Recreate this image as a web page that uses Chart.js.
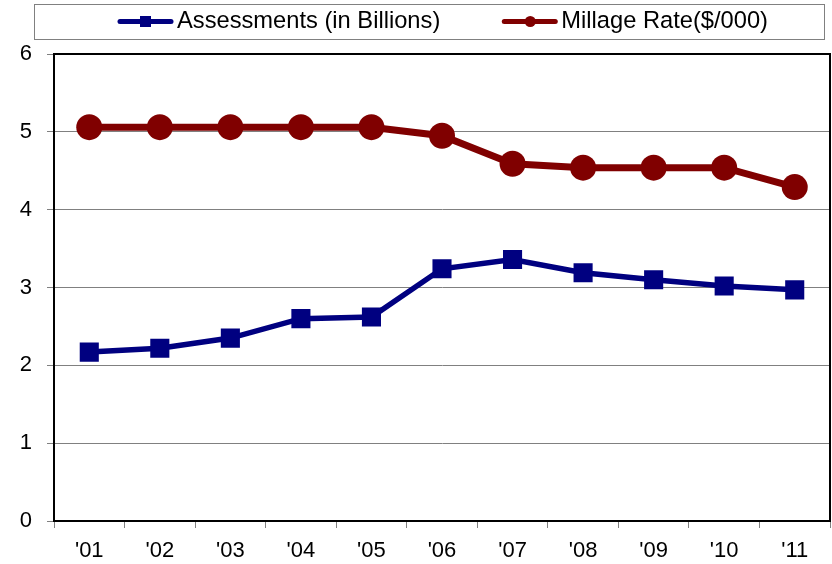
<!DOCTYPE html>
<html>
<head>
<meta charset="utf-8">
<script src="https://cdn.jsdelivr.net/npm/chart.js@4"></script>
<style>
  html, body { margin: 0; padding: 0; background: #fff; }
</style>
</head>
<body>
<canvas id="taxChart" width="832" height="564"></canvas>
<script>
// Years
const years = ["'01", "'02", "'03", "'04", "'05", "'06", "'07", "'08", "'09", "'10", "'11"];

// Series
const assessments = [2.17, 2.22, 2.35, 2.60, 2.62, 3.24, 3.36, 3.19, 3.10, 3.02, 2.97];
const millageRate = [5.06, 5.06, 5.06, 5.06, 5.06, 4.95, 4.59, 4.54, 4.54, 4.54, 4.29];

const yTicks = [0, 1, 2, 3, 4, 5, 6];

const NAVY = '#000080';
const MAROON = '#800000';
const FONT = 'Liberation Sans, Arial, sans-serif';

// boxed legend at the top, each entry a short line with its marker
const legendBox = {
    id: 'legendBox',
    afterDraw(chart) {
        const ctx = chart.ctx;
        ctx.save();
        ctx.strokeStyle = '#808080';
        ctx.lineWidth = 1;
        ctx.strokeRect(34.5, 4.5, 790, 35);

        ctx.font = '23.7px ' + FONT;
        ctx.textBaseline = 'middle';
        let x = 117;
        const y = 21.5;
        chart.data.datasets.forEach(ds => {
            ctx.strokeStyle = ds.borderColor;
            ctx.fillStyle = ds.borderColor;
            ctx.lineWidth = 5;
            ctx.lineCap = 'round';
            ctx.beginPath();
            ctx.moveTo(x + 3, y); ctx.lineTo(x + 54, y);
            ctx.stroke();
            if (ds.pointStyle === 'rect') {
                ctx.fillRect(x + 23, y - 5.5, 11, 11);
            } else {
                ctx.beginPath();
                ctx.arc(x + 29, y, 5.5, 0, Math.PI * 2);
                ctx.fill();
            }
            ctx.fillStyle = '#000';
            ctx.fillText(ds.label, x + 60, y);
            x += 60 + ctx.measureText(ds.label).width + 61;
        });

        // frame round the plot
        const a = chart.chartArea;
        ctx.strokeStyle = '#000';
        ctx.lineWidth = 2;
        ctx.strokeRect(a.left, a.top, a.right - a.left, a.bottom - a.top);
        ctx.restore();
    }
};

new Chart(document.getElementById('taxChart'), {
    type: 'line',
    data: {
        labels: years,
        datasets: [{
            label: 'Assessments (in Billions)',
            data: assessments,
            borderColor: NAVY,
            backgroundColor: NAVY,
            borderWidth: 5.5,
            tension: 0,
            pointStyle: 'rect',
            pointRadius: 13.5,
            pointHoverRadius: 13.5,
            pointBorderWidth: 0
        }, {
            label: 'Millage Rate($/000)',
            data: millageRate,
            borderColor: MAROON,
            backgroundColor: MAROON,
            borderWidth: 7,
            tension: 0,
            pointStyle: 'circle',
            pointRadius: 13,
            pointHoverRadius: 13,
            pointBorderWidth: 0
        }]
    },
    options: {
        responsive: false,
        animation: false,
        layout: { autoPadding: false, padding: { top: 54, right: 2, left: 0, bottom: 0 } },
        plugins: {
            tooltip: { enabled: false },
            legend: { display: false }
        },
        scales: {
            x: {
                offset: true,
                grid: {
                    offset: true,
                    drawOnChartArea: false,
                    drawTicks: true,
                    tickLength: 7,
                    color: '#808080'
                },
                border: { color: '#000', width: 2 },
                ticks: {
                    color: '#000',
                    font: { family: FONT, size: 22 },
                    padding: 10,
                    maxRotation: 0
                },
                afterFit(scale) { scale.height = 43; }
            },
            y: {
                min: yTicks[0],
                max: yTicks[yTicks.length - 1],
                afterBuildTicks(scale) { scale.ticks = yTicks.map(v => ({ value: v })); },
                grid: {
                    color: '#808080',
                    lineWidth: 1,
                    tickLength: 7
                },
                border: { color: '#000', width: 2 },
                ticks: {
                    color: '#000',
                    font: { family: FONT, size: 22 },
                    padding: 15
                },
                afterFit(scale) { scale.width = 54; }
            }
        }
    },
    plugins: [legendBox]
});
</script>
</body>
</html>
